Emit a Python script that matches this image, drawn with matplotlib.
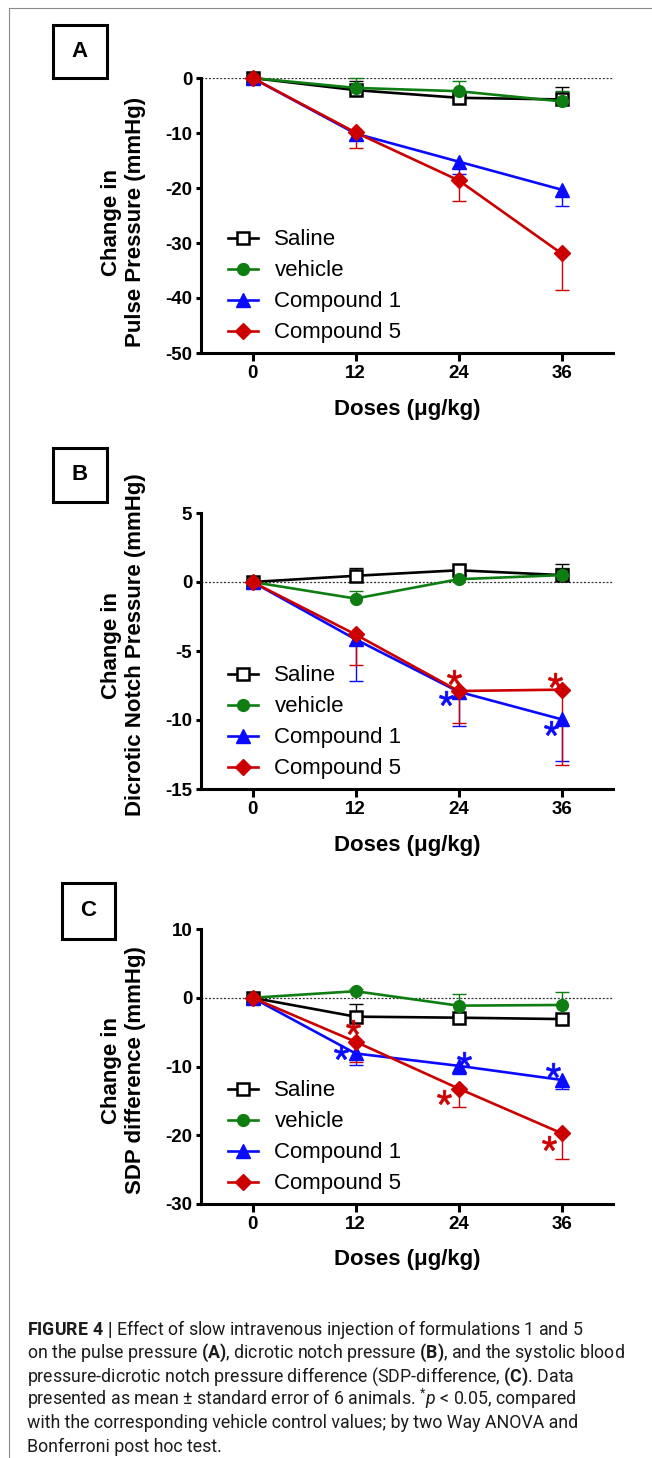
import matplotlib
matplotlib.use("Agg")
import matplotlib.pyplot as plt
from matplotlib.patches import Rectangle
from matplotlib.lines import Line2D
from matplotlib.transforms import ScaledTranslation

plt.rcParams['font.family'] = ['Liberation Sans', 'DejaVu Sans']
plt.rcParams['axes.unicode_minus'] = False
plt.rcParams['mathtext.fontset'] = 'custom'
plt.rcParams['mathtext.rm'] = 'Roboto'
plt.rcParams['mathtext.bf'] = 'Roboto:bold'
plt.rcParams['mathtext.it'] = 'Roboto:italic'

# ---------------- data ----------------
doses = [0, 12, 24, 36]
dose_labels = ["0", "12", "24", "36"]
series_names = ["Saline", "vehicle", "Compound 1", "Compound 5"]

# Panel A: pulse pressure
pulse_saline = [0, -2.2, -3.6, -3.9]
pulse_saline_sem = [0, 1.7, 0.6, 2.2]
pulse_vehicle = [0, -1.8, -2.4, -4.25]
pulse_vehicle_sem = [0, 1.8, 1.8, 1.8]
pulse_c1 = [0, -10.1, -15.2, -20.3]
pulse_c1_sem = [0, 1.1, 2.3, 2.9]
pulse_c5 = [0, -9.9, -18.6, -31.9]
pulse_c5_sem = [0, 2.9, 3.7, 6.7]

# Panel B: dicrotic notch pressure
notch_saline = [0, 0.45, 0.85, 0.5]
notch_saline_sem = [0, 0.6, 0.35, 0.8]
notch_vehicle = [0, -1.2, 0.2, 0.5]
notch_vehicle_sem = [0, 0.55, 0.3, 0.55]
notch_c1 = [0, -4.15, -7.95, -9.95]
notch_c1_sem = [0, 3.0, 2.5, 3.05]
notch_c5 = [0, -3.8, -7.9, -7.8]
notch_c5_sem = [0, 2.25, 2.3, 5.45]

# Panel C: SDP difference
sdp_saline = [0, -2.75, -2.9, -3.1]
sdp_saline_sem = [0, 1.8, 0.4, 0.4]
sdp_vehicle = [0, 0.95, -1.15, -1.05]
sdp_vehicle_sem = [0, 0.3, 1.65, 1.85]
sdp_c1 = [0, -8.1, -9.9, -11.95]
sdp_c1_sem = [0, 1.7, 1.2, 1.35]
sdp_c5 = [0, -6.4, -13.2, -19.7]
sdp_c5_sem = [0, 2.9, 2.65, 3.7]

# significant doses (*p < 0.05)
sig_notch_c1 = [24, 36]
sig_notch_c5 = [24, 36]
sig_sdp_c1 = [12, 24, 36]
sig_sdp_c5 = [12, 24, 36]

yticks_A = [0, -10, -20, -30, -40, -50]
yticks_B = [5, 0, -5, -10, -15]
yticks_C = [10, 0, -10, -20, -30]

ylabel_A = "Change in\nPulse Pressure (mmHg)"
ylabel_B = "Change in\nDicrotic Notch Pressure (mmHg)"
ylabel_C = "Change in\nSDP difference (mmHg)"
xlabel = "Doses (\u03bcg/kg)"

caption_lines = [
    r"$\mathbf{FIGURE\ 4\ |}$ Effect of slow intravenous injection of formulations 1 and 5",
    r"on the pulse pressure $\mathbf{(A)}$, dicrotic notch pressure $\mathbf{(B)}$, and the systolic blood",
    r"pressure-dicrotic notch pressure difference (SDP-difference, $\mathbf{(C)}$. Data",
    r"presented as mean $\pm$ standard error of 6 animals. $^{*}\mathit{p}$ < 0.05, compared",
    "with the corresponding vehicle control values; by two Way ANOVA and",
    "Bonferroni post hoc test.",
]

# ---------------- styles ----------------
W, H = 652, 1458
styles = {
    "Saline": dict(color="#000000", marker="s", ms=8.5, mfc="white", mew=1.8, up=True),
    "vehicle": dict(color="#0e7d12", marker="o", ms=8.5, mfc="#0e7d12", mew=1.0, up=True),
    "Compound 1": dict(color="#0a0aff", marker="^", ms=9.5, mfc="#0a0aff", mew=1.0, up=False),
    "Compound 5": dict(color="#cc0000", marker="D", ms=8.5, mfc="#cc0000", mew=1.0, up=False),
}
# star offsets in pixels (dx, dy up)
star_off_B = {("Compound 1", 24): (-12.6, -6.6), ("Compound 1", 36): (-11, -9),
              ("Compound 5", 24): (-5, 14), ("Compound 5", 36): (-7, 10)}
star_off_C = {("Compound 1", 12): (-15, 1.6), ("Compound 1", 24): (5, 6.4),
              ("Compound 1", 36): (-9, 10), ("Compound 5", 12): (-3, 14.4),
              ("Compound 5", 24): (-15, -8.4), ("Compound 5", 36): (-13, -9.4)}

fig = plt.figure(figsize=(W / 100, H / 100), dpi=100)


def fx(px):
    return px / W


def fy(py):
    return 1 - py / H


def make_axes(top, bottom):
    return fig.add_axes([fx(201), fy(bottom), fx(613) - fx(201), (bottom - top) / H])


def draw_panel(ax, means, sems, yticks, ylabel, label_cy, axis_bottom, stars=None, star_off=None):
    handles = []
    for z, (name, m, s) in enumerate(zip(series_names, means, sems)):
        st = styles[name]
        xs = [d for d, e in zip(doses, s) if e > 0]
        ms_ = [v for v, e in zip(m, s) if e > 0]
        es = [e for e in s if e > 0]
        tips = [v + e if st["up"] else v - e for v, e in zip(ms_, es)]
        ax.vlines(xs, ms_, tips, color=st["color"], lw=1.0, zorder=2 + z)
        ax.plot(xs, tips, ls="none", marker="_", ms=9.4, mew=1.0, color=st["color"],
                zorder=2 + z, clip_on=False)
        ln, = ax.plot(doses, m, color=st["color"], lw=1.9, marker=st["marker"], ms=st["ms"],
                      mfc=st["mfc"], mec=st["color"], mew=st["mew"], zorder=6 + z,
                      clip_on=False, label=name)
        handles.append(ln)
    if stars:
        for name, dlist in stars.items():
            m = means[series_names.index(name)]
            for d in dlist:
                dx, dy = star_off[(name, d)]
                tr = ax.transData + ScaledTranslation(dx / 100, dy / 100, fig.dpi_scale_trans)
                ax.plot([d], [m[doses.index(d)]], ls="none", marker="$*$", ms=10.5,
                        color=styles[name]["color"], mew=0.5, transform=tr,
                        clip_on=False, zorder=20)
    ax.axhline(0, color="#333333", lw=0.9, ls=(0, (1.6, 1.4)), zorder=1)
    ax.set_xlim(-6, 42)
    ax.set_ylim(min(yticks), max(yticks))
    ax.set_xticks(doses, dose_labels, fontweight="bold", fontsize=13.5)
    ax.set_yticks(yticks, [str(t) for t in yticks], fontweight="bold", fontsize=13.5)
    for sp in ("top", "right"):
        ax.spines[sp].set_visible(False)
    for sp in ("left", "bottom"):
        ax.spines[sp].set_linewidth(2.2)
    ax.tick_params(axis="y", length=3.8, width=2.2, pad=2.5)
    ax.tick_params(axis="x", length=5.8, width=2.2, pad=3)
    ax.set_facecolor("none")
    ax.legend(handles=handles, loc="lower left", bbox_to_anchor=(0.065, 0.035),
              frameon=False, fontsize=16, handlelength=1.35, handletextpad=0.75,
              labelspacing=0.45, borderpad=0, borderaxespad=0, numpoints=1)
    fig.text(fx(123.5), fy(label_cy), ylabel, rotation=90, ha="center", va="center",
             fontsize=16, fontweight="bold", linespacing=1.15, multialignment="center")
    fig.text(fx(407), fy(axis_bottom + 56), xlabel, ha="center", va="center",
             fontsize=16, fontweight="bold")


def panel_box(x0, y0, x1, y1, letter):
    fig.patches.append(Rectangle((fx(x0), fy(y1)), fx(x1) - fx(x0), fy(y0) - fy(y1),
                                 transform=fig.transFigure, fill=False, lw=2.2, ec="black"))
    fig.text(fx((x0 + x1) / 2), fy((y0 + y1) / 2), letter, ha="center", va="center",
             fontsize=16, fontweight="bold")


# frame lines
fig.add_artist(Line2D([fx(9), 1], [fy(8), fy(8)], transform=fig.transFigure, color="#8a8a8a", lw=0.8))
fig.add_artist(Line2D([fx(9), fx(9)], [fy(8), 0], transform=fig.transFigure, color="#8a8a8a", lw=0.8))

axA = make_axes(78, 353)
draw_panel(axA, [pulse_saline, pulse_vehicle, pulse_c1, pulse_c5],
           [pulse_saline_sem, pulse_vehicle_sem, pulse_c1_sem, pulse_c5_sem],
           yticks_A, ylabel_A, 222, 354)
panel_box(53, 25, 107, 78, "A")

axB = make_axes(513, 789)
draw_panel(axB, [notch_saline, notch_vehicle, notch_c1, notch_c5],
           [notch_saline_sem, notch_vehicle_sem, notch_c1_sem, notch_c5_sem],
           yticks_B, ylabel_B, 645, 789,
           stars={"Compound 1": sig_notch_c1, "Compound 5": sig_notch_c5}, star_off=star_off_B)
panel_box(53, 448, 107, 502, "B")

axC = make_axes(929, 1204)
draw_panel(axC, [sdp_saline, sdp_vehicle, sdp_c1, sdp_c5],
           [sdp_saline_sem, sdp_vehicle_sem, sdp_c1_sem, sdp_c5_sem],
           yticks_C, ylabel_C, 1070, 1204,
           stars={"Compound 1": sig_sdp_c1, "Compound 5": sig_sdp_c5}, star_off=star_off_C)
panel_box(62, 883, 115, 939, "C")

for i, line in enumerate(caption_lines):
    fig.text(fx(27), fy(1335 + 23.3 * i), line, ha="left", va="baseline",
             fontsize=12.8, family="Roboto", color="#1c1c1c")

fig.savefig("out.png", dpi=100)
